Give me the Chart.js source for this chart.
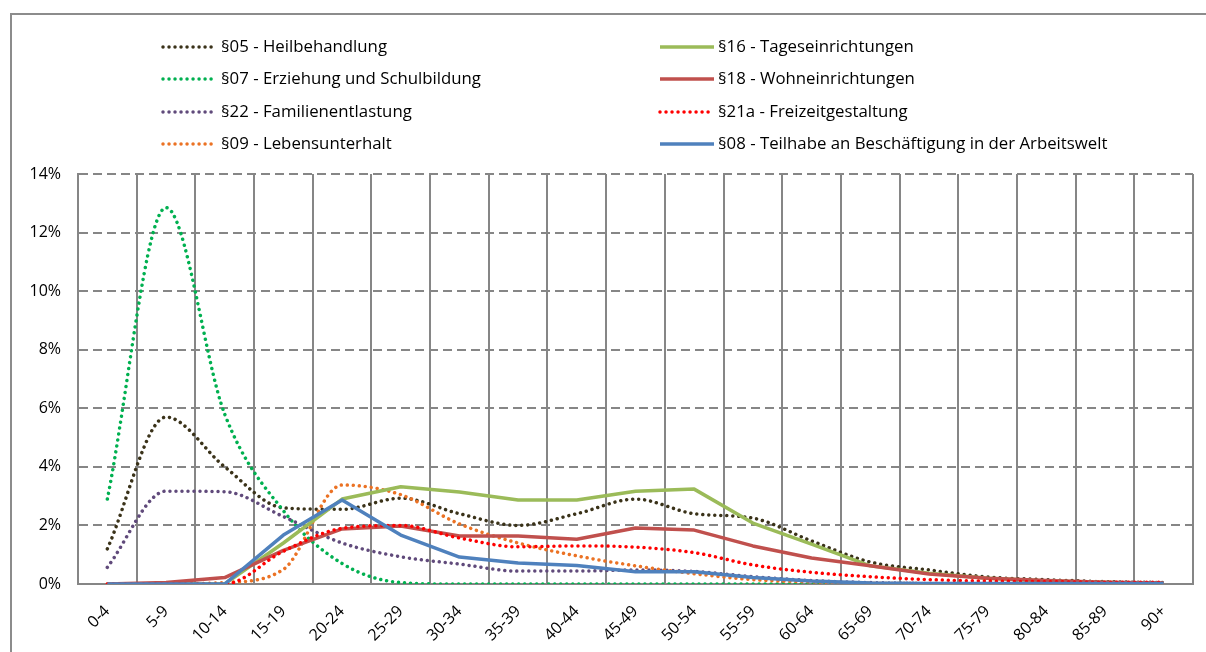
<!DOCTYPE html>
<html>
<head>
<meta charset="utf-8">
<script src="https://cdn.jsdelivr.net/npm/chart.js@4"></script>
<style>
  html, body { margin: 0; padding: 0; background: #fff; }
  #wrap { width: 1206px; height: 652px; position: relative; }
</style>
</head>
<body>
<div id="wrap"><canvas id="ageChart" width="1206" height="652"></canvas></div>
<script>
// ------------------------------------------------------------
// Altersverteilung der Leistungen (Anteil je Altersgruppe, %)
// ------------------------------------------------------------

const ageGroups = ["0-4", "5-9", "10-14", "15-19", "20-24", "25-29", "30-34", "35-39", "40-44",
  "45-49", "50-54", "55-59", "60-64", "65-69", "70-74", "75-79", "80-84", "85-89", "90+"];

const yTicks = [0, 2, 4, 6, 8, 10, 12, 14];

const heilbehandlung05 = [1.2, 5.7, 4.0, 2.6, 2.55, 2.93, 2.4, 2.0, 2.4, 2.9, 2.4, 2.25, 1.47, 0.75, 0.48, 0.24, 0.15, 0.08, 0.05];
const schulbildung07 = [2.9, 12.85, 5.8, 2.5, 0.7, 0.05, 0, 0, 0, 0, 0, 0, 0, 0, 0, 0, 0, 0, 0];
const familienentlastung22 = [0.57, 3.17, 3.15, 2.3, 1.4, 0.93, 0.68, 0.44, 0.44, 0.48, 0.43, 0.25, 0.12, 0.05, 0.02, 0.02, 0.01, 0.01, 0.01];
const lebensunterhalt09 = [0, 0, 0.05, 0.5, 3.38, 3.05, 2.05, 1.4, 0.96, 0.62, 0.35, 0.15, 0.07, 0.03, 0.02, 0.01, 0.01, 0, 0];
const tageseinrichtungen16 = [0, 0, 0, 1.4, 2.9, 3.32, 3.14, 2.87, 2.87, 3.17, 3.24, 2.08, 1.36, 0.62, 0.37, 0.2, 0.1, 0.05, 0.02];
const wohneinrichtungen18 = [0, 0.05, 0.22, 1.15, 1.88, 1.98, 1.64, 1.64, 1.53, 1.91, 1.84, 1.3, 0.89, 0.62, 0.34, 0.2, 0.12, 0.06, 0.03];
const freizeit21a = [0, 0, 0, 1.12, 1.9, 2.0, 1.57, 1.27, 1.3, 1.26, 1.07, 0.65, 0.4, 0.25, 0.15, 0.1, 0.08, 0.06, 0.06];
const arbeitswelt08 = [0, 0, 0, 1.67, 2.87, 1.67, 0.92, 0.72, 0.63, 0.42, 0.42, 0.22, 0.1, 0.03, 0.02, 0.02, 0.02, 0.02, 0.02];

const FONT = "'Open Sans', 'Liberation Sans', sans-serif";
const DOTS = [0.01, 6];

const dotted = (label, data, color, order, legendPos) => ({
  label, data, order, legendPos,
  borderColor: color,
  backgroundColor: color,
  borderWidth: 3.5,
  borderDash: DOTS,
  borderCapStyle: "round",
  cubicInterpolationMode: "monotone",
  pointRadius: 0,
  fill: false,
});

const solid = (label, data, color, order, legendPos) => ({
  label, data, order, legendPos,
  borderColor: color,
  backgroundColor: color,
  borderWidth: 3.5,
  borderCapStyle: "butt",
  borderJoinStyle: "round",
  tension: 0,
  pointRadius: 0,
  fill: false,
});

// legend slot: [sampleStartX, rowCenterY]
const datasets = [
  dotted("§05 - Heilbehandlung", heilbehandlung05, "#3a3219", 7, [163, 47]),
  dotted("§07 - Erziehung und Schulbildung", schulbildung07, "#00b050", 6, [163, 79]),
  dotted("§22 - Familienentlastung", familienentlastung22, "#604a7b", 5, [163, 112]),
  dotted("§09 - Lebensunterhalt", lebensunterhalt09, "#eb7224", 4, [163, 144]),
  solid("§16 - Tageseinrichtungen", tageseinrichtungen16, "#9bbb59", 3, [660, 47]),
  solid("§18 - Wohneinrichtungen", wohneinrichtungen18, "#c0504d", 2, [660, 79]),
  dotted("§21a - Freizeitgestaltung", freizeit21a, "#ff0000", 1, [660, 112]),
  solid("§08 - Teilhabe an Beschäftigung in der Arbeitswelt", arbeitswelt08, "#4f81bd", 0, [660, 144]),
];

const frameAndLegend = {
  id: "frameAndLegend",
  beforeDraw(chart) {
    const { ctx } = chart;
    ctx.save();
    ctx.strokeStyle = "#8c8c8c";
    ctx.lineWidth = 2;
    ctx.strokeRect(11, 14, 1300, 700);
    ctx.restore();
  },
  afterDraw(chart) {
    const { ctx } = chart;
    ctx.save();
    ctx.font = "16.8px " + FONT;
    ctx.textBaseline = "middle";
    chart.data.datasets.forEach((ds) => {
      const [x, y] = ds.legendPos;
      ctx.beginPath();
      ctx.strokeStyle = ds.borderColor;
      ctx.lineWidth = ds.borderWidth;
      ctx.lineCap = ds.borderDash ? "round" : "butt";
      ctx.setLineDash(ds.borderDash || []);
      ctx.moveTo(x, y);
      ctx.lineTo(x + 54, y);
      ctx.stroke();
      ctx.setLineDash([]);
      ctx.fillStyle = "#000";
      ctx.fillText(ds.label, x + 58, y);
    });
    ctx.restore();
  },
};

new Chart(document.getElementById("ageChart").getContext("2d"), {
  type: "line",
  data: { labels: ageGroups, datasets },
  plugins: [frameAndLegend],
  options: {
    responsive: false,
    animation: false,
    layout: { padding: { top: 174, right: 13, left: 0, bottom: 0 } },
    plugins: { legend: { display: false }, tooltip: { enabled: false } },
    scales: {
      x: {
        offset: true,
        afterFit: (scale) => { scale.height = 68; },
        grid: { offset: true, color: "#868686", lineWidth: 2, drawTicks: false },
        border: { color: "#868686", width: 2 },
        ticks: {
          color: "#000",
          font: { family: FONT, size: 16 },
          minRotation: 45,
          maxRotation: 45,
          padding: 18,
          autoSkip: false,
        },
      },
      y: {
        min: 0,
        max: 14,
        afterFit: (scale) => { scale.width = 78; },
        afterBuildTicks: (scale) => { scale.ticks = yTicks.map((v) => ({ value: v })); },
        grid: { color: "#868686", lineWidth: 2, drawTicks: false },
        border: { color: "#868686", width: 2, dash: [9, 5] },
        ticks: {
          color: "#000",
          font: { family: FONT, size: 16 },
          padding: 17,
          callback: (v) => v + "%",
        },
      },
    },
  },
});
</script>
</body>
</html>
